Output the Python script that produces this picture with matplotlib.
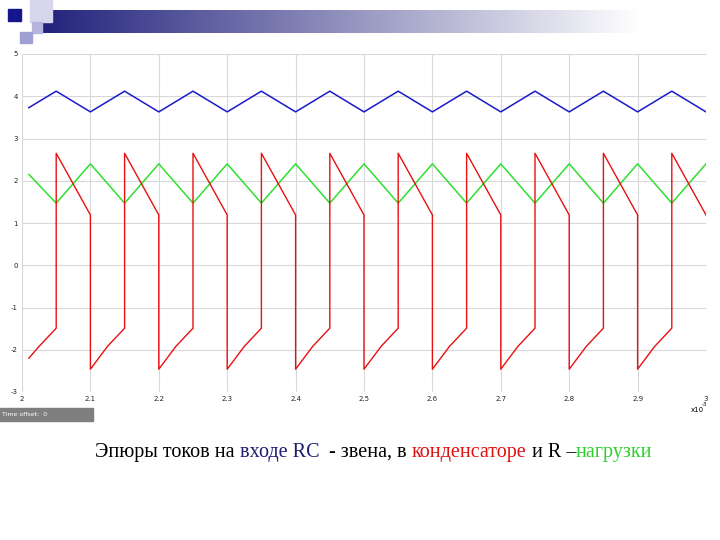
import matplotlib
matplotlib.use("Agg")
import matplotlib.pyplot as plt
import numpy as np

plt.rcParams["axes.unicode_minus"] = False

# ── data (time in ms) ────────────────────────────────────────────────────────
tri_t = [2.01, 2.05, 2.10, 2.15, 2.20, 2.25, 2.30, 2.35, 2.40, 2.45, 2.50,
         2.55, 2.60, 2.65, 2.70, 2.75, 2.80, 2.85, 2.90, 2.95, 3.00]
blue_v = [3.73, 4.12, 3.63, 4.12, 3.63, 4.12, 3.63, 4.12, 3.63, 4.12, 3.63,
          4.12, 3.63, 4.12, 3.63, 4.12, 3.63, 4.12, 3.63, 4.12, 3.63]
green_v = [2.15, 1.47, 2.40, 1.47, 2.40, 1.47, 2.40, 1.47, 2.40, 1.47, 2.40,
           1.47, 2.40, 1.47, 2.40, 1.47, 2.40, 1.47, 2.40, 1.47, 2.40]

red_t = [2.010, 2.025, 2.050, 2.050, 2.100, 2.100, 2.125,
         2.150, 2.150, 2.200, 2.200, 2.225,
         2.250, 2.250, 2.300, 2.300, 2.325,
         2.350, 2.350, 2.400, 2.400, 2.425,
         2.450, 2.450, 2.500, 2.500, 2.525,
         2.550, 2.550, 2.600, 2.600, 2.625,
         2.650, 2.650, 2.700, 2.700, 2.725,
         2.750, 2.750, 2.800, 2.800, 2.825,
         2.850, 2.850, 2.900, 2.900, 2.925,
         2.950, 2.950, 3.000]
red_v = [-2.20, -1.92, -1.49, 2.65, 1.19, -2.46, -1.92,
         -1.49, 2.65, 1.19, -2.46, -1.92,
         -1.49, 2.65, 1.19, -2.46, -1.92,
         -1.49, 2.65, 1.19, -2.46, -1.92,
         -1.49, 2.65, 1.19, -2.46, -1.92,
         -1.49, 2.65, 1.19, -2.46, -1.92,
         -1.49, 2.65, 1.19, -2.46, -1.92,
         -1.49, 2.65, 1.19, -2.46, -1.92,
         -1.49, 2.65, 1.19, -2.46, -1.92,
         -1.49, 2.65, 1.19]

x_ticks = [2.0, 2.1, 2.2, 2.3, 2.4, 2.5, 2.6, 2.7, 2.8, 2.9, 3.0]
x_labels = ["2", "2.1", "2.2", "2.3", "2.4", "2.5", "2.6", "2.7", "2.8", "2.9", "3"]
y_ticks = [-3, -2, -1, 0, 1, 2, 3, 4, 5]

caption = [("Эпюры токов на ", "black"), ("входе RC", "#1c1c70"),
           ("  - звена, в ", "black"), ("конденсаторе", "#e01010"),
           (" и R \u2013", "black"), ("нагрузки", "#30d030")]

W, H = 720, 540
fig = plt.figure(figsize=(7.2, 5.4), dpi=100)

def px(x0, y0, x1, y1):
    # pixel box (top-left origin) -> figure rect
    return [x0 / W, 1 - y1 / H, (x1 - x0) / W, (y1 - y0) / H]

# ── slide decoration (top-left) ──────────────────────────────────────────────
deco = fig.add_axes([0, 0, 1, 1], zorder=0)
deco.set_axis_off()
grad = np.linspace(0, 1, 256)
navy = np.array([0.12, 0.12, 0.48])
cols = navy[None, :] * (1 - grad[:, None]) + np.ones(3)[None, :] * grad[:, None]
deco.imshow(cols[None, :, :], extent=(32, 640, 33, 10), aspect="auto", zorder=1)
deco.add_patch(plt.Rectangle((30, 0), 22, 22, color="#d6d6ec", zorder=2))
deco.add_patch(plt.Rectangle((32, 22), 10, 11, color="#b4b4dc", zorder=2))
deco.add_patch(plt.Rectangle((8, 9), 13, 12, color="#16168c", zorder=3))
deco.add_patch(plt.Rectangle((20, 32), 12, 11, color="#a0a0d2", zorder=2))
deco.add_patch(plt.Rectangle((0, 408), 93, 13, color="#7f7f7f", zorder=2))
deco.text(2, 414.5, "Time offset:  0", color="white", fontsize=4.5,
          va="center", ha="left", zorder=3)
deco.set_xlim(0, W)
deco.set_ylim(H, 0)

# ── scope axes ───────────────────────────────────────────────────────────────
ax = fig.add_axes(px(22, 54, 706, 392), zorder=1)
ax.patch.set_alpha(0)
ax.plot(tri_t, blue_v, color="#1a1ac8", lw=1.1)
ax.plot(tri_t, green_v, color="#2ee02e", lw=1.1)
ax.plot(red_t, red_v, color="#e81010", lw=1.0)
ax.set_xlim(2.0, 3.0)
ax.set_ylim(-3, 5)
ax.set_xticks(x_ticks)
ax.set_xticklabels(x_labels)
ax.set_yticks(y_ticks)
ax.grid(True, color="#d8d8d8", lw=0.8)
ax.set_axisbelow(True)
for s in ax.spines.values():
    s.set_visible(False)
ax.tick_params(length=0, labelsize=5, labelcolor="#222222", pad=3)
fig.text(697 / W, 1 - 410 / H, "x10", fontsize=5, ha="center", va="center")
fig.text(704 / W, 1 - 404 / H, "-3", fontsize=4, ha="center", va="center")

# ── multi-coloured caption ───────────────────────────────────────────────────
fs = 14.5
fam = "Liberation Serif"
renderer = fig.canvas.get_renderer()

def text_w(s):
    t = fig.text(0, 0, s, fontsize=fs, family=fam)
    w = t.get_window_extent(renderer).width
    t.remove()
    return w

dot_w = text_w(".")
x0 = 95
y_base = 1 - 457 / H
prefix = ""
for seg, col in caption:
    lead = len(seg) - len(seg.lstrip())
    pre = prefix + seg[:lead]
    off = (text_w(pre + ".") - dot_w) if pre else 0
    fig.text((x0 + off) / W, y_base, seg.strip(), fontsize=fs, family=fam,
             color=col, ha="left", va="baseline")
    prefix += seg

fig.savefig("out.png", dpi=100)
